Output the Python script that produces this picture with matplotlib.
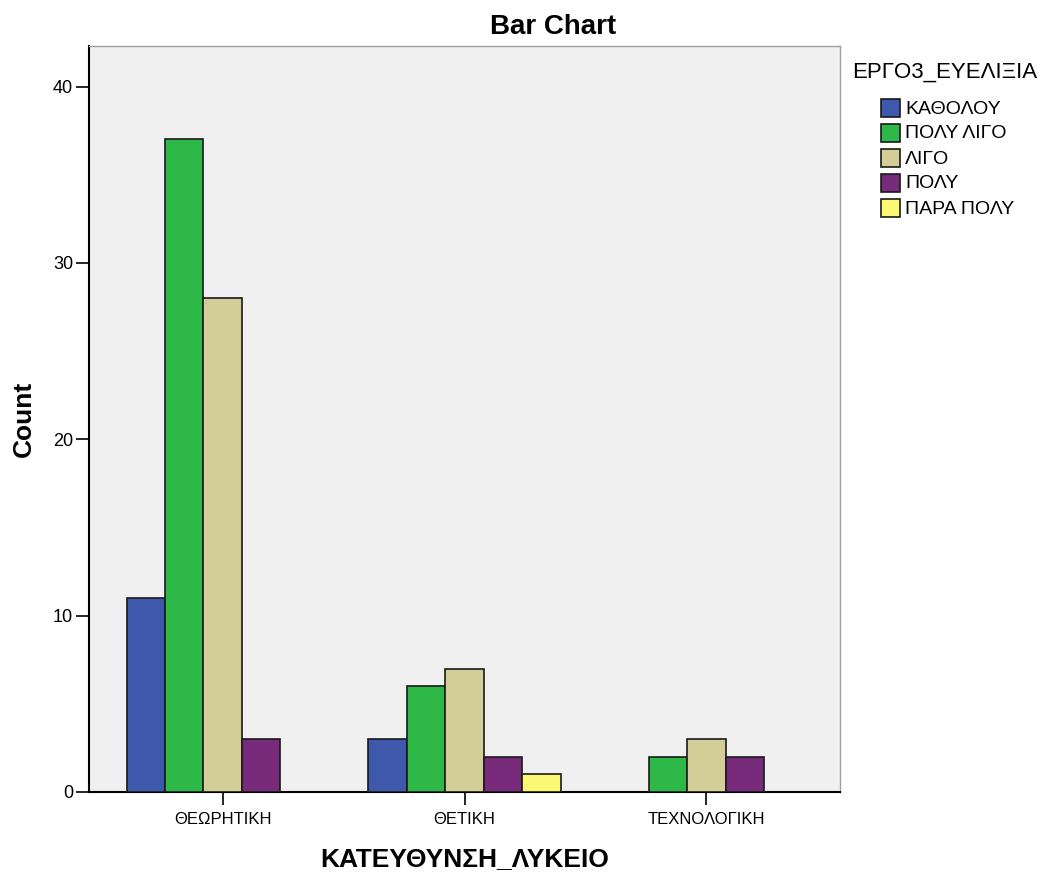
import matplotlib
matplotlib.use("Agg")
import matplotlib.pyplot as plt
import numpy as np
from matplotlib.patches import Rectangle

plt.rcParams['font.family'] = ['Liberation Sans', 'DejaVu Sans']

categories = ["ΘΕΩΡΗΤΙΚΗ", "ΘΕΤΙΚΗ", "ΤΕΧΝΟΛΟΓΙΚΗ"]
series_names = ["ΚΑΘΟΛΟΥ", "ΠΟΛΥ ΛΙΓΟ", "ΛΙΓΟ", "ΠΟΛΥ", "ΠΑΡΑ ΠΟΛΥ"]
counts_katholou = [11, 3, 0]
counts_poly_ligo = [37, 6, 2]
counts_ligo = [28, 7, 3]
counts_poly = [3, 2, 2]
counts_para_poly = [0, 1, 0]
series_values = [counts_katholou, counts_poly_ligo, counts_ligo, counts_poly, counts_para_poly]
colors = ["#3E58AC", "#2EB848", "#D3CE97", "#782A7B", "#FBF873"]
y_ticks = [0, 10, 20, 30, 40]

W, H = 1053, 874
fig = plt.figure(figsize=(W / 100, H / 100), dpi=100)
ax = fig.add_axes([89 / W, 1 - 792 / H, (840 - 89) / W, (792 - 46) / H])
ax.set_facecolor("#F0F0F0")

x = np.arange(len(categories))
bw = 0.159
n = len(series_values)
for i, (vals, c) in enumerate(zip(series_values, colors)):
    offs = (i - (n - 1) / 2) * bw
    for xi, v in zip(x, vals):
        if v > 0:
            ax.bar(xi + offs, v, width=bw, color=c, edgecolor="#1a1a1a", linewidth=1.2, zorder=3)

ax.set_xlim(-0.553, 2.553)
ax.set_ylim(0, 42.3)
ax.set_xticks(x)
ax.set_xticklabels(categories, fontsize=12)
ax.set_yticks(y_ticks)
ax.set_yticklabels([str(t) for t in y_ticks], fontsize=13)
ax.tick_params(axis='both', direction='out', length=9.5, width=1.2, color='black', pad=2)
ax.tick_params(axis='x', pad=5)

for s in ['left', 'bottom']:
    ax.spines[s].set_color('black')
    ax.spines[s].set_linewidth(1.5)
for s in ['top', 'right']:
    ax.spines[s].set_color('#A0A0A0')
    ax.spines[s].set_linewidth(1.0)

ax.set_ylabel("Count", fontsize=19, fontweight='bold', labelpad=12)
ax.set_xlabel("ΚΑΤΕΥΘΥΝΣΗ_ΛΥΚΕΙΟ", fontsize=19, fontweight='bold', labelpad=14)

fig.text(553 / W, 1 - 27 / H, "Bar Chart", fontsize=20, fontweight='bold',
         ha='center', va='center')

# legend drawn in figure coordinates, entries indented under the title
fig.text(852 / W, 1 - 72 / H, "ΕΡΓΟ3_ΕΥΕΛΙΞΙΑ", fontsize=16, ha='left', va='center')
for k, (name, c) in enumerate(zip(series_names, colors)):
    yc = 108 + 25 * k
    fig.patches.append(Rectangle((881 / W, 1 - (yc + 9) / H), 19 / W, 18 / H,
                                 transform=fig.transFigure, facecolor=c,
                                 edgecolor='#1a1a1a', linewidth=1.2))
    fig.text(905 / W, 1 - (yc + 1) / H, name, fontsize=14, ha='left', va='center')

fig.savefig("out.png", dpi=100, facecolor='white')
